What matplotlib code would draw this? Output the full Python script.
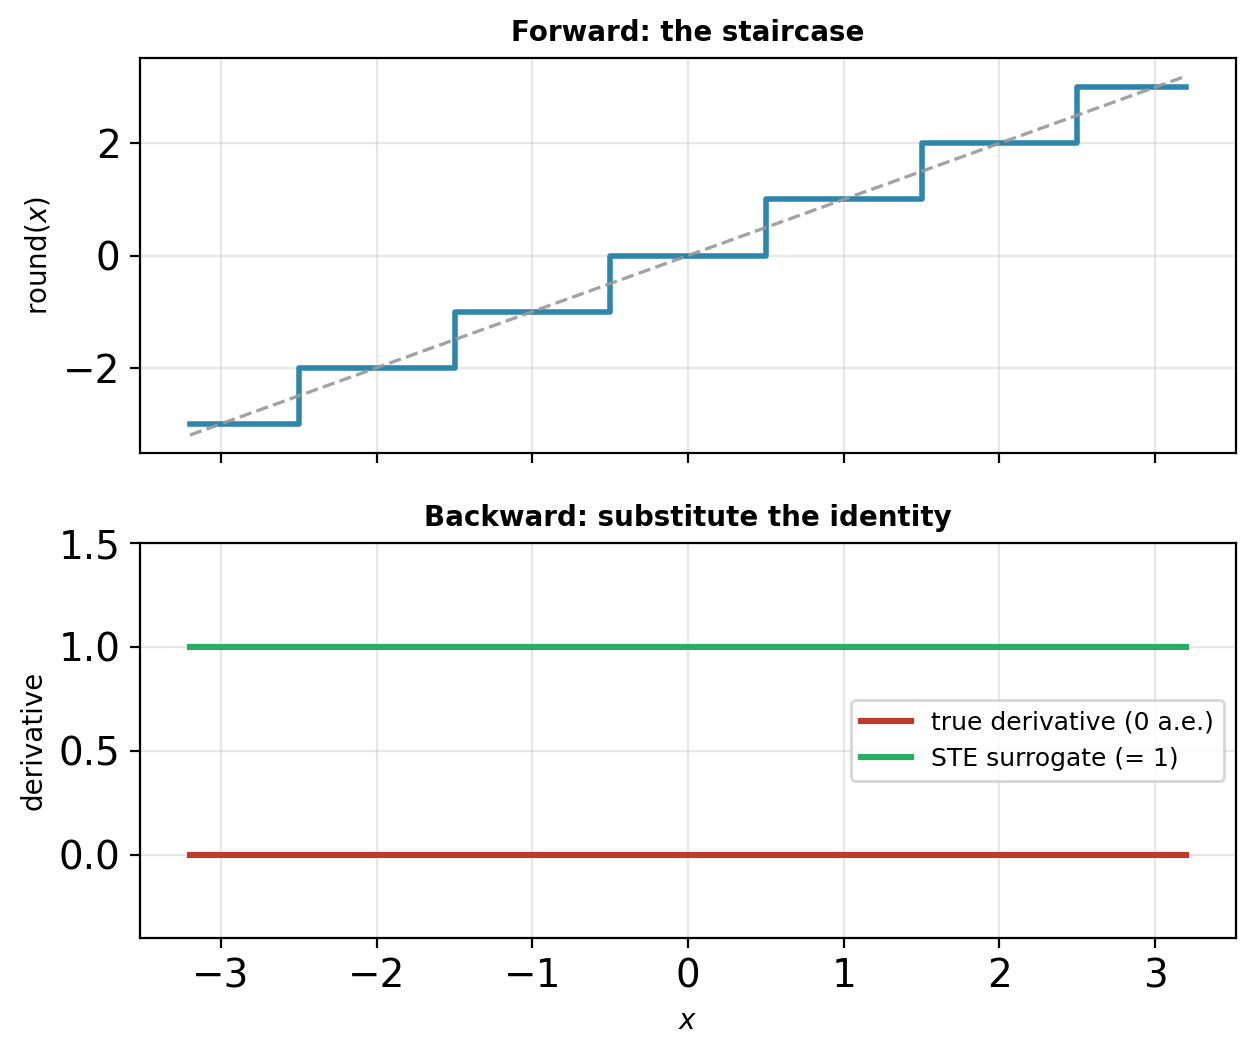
import matplotlib
matplotlib.use("Agg")
import matplotlib.pyplot as plt
import numpy as np

# Data
step_edges = [-3.2, -2.5, -1.5, -0.5, 0.5, 1.5, 2.5, 3.2]
step_levels = [-3, -2, -1, 0, 1, 2, 3]
identity_x = [-3.2, 3.2]
identity_y = [-3.2, 3.2]
deriv_x = [-3.2, 3.2]
true_deriv = [0, 0]
ste_deriv = [1, 1]

fig = plt.figure(figsize=(6.275, 5.275), dpi=200)
ax1 = fig.add_axes([0.1116, 0.5706, 0.8733, 0.3744])
ax2 = fig.add_axes([0.1116, 0.1109, 0.8733, 0.3744], sharex=ax1)

ax1.plot(step_edges, step_levels + [step_levels[-1]], drawstyle='steps-post',
         color='#2E86AB', lw=2.0)
ax1.plot(identity_x, identity_y, ls='--', color='#999999', lw=1.2, alpha=0.9)
ax1.set_xlim(-3.52, 3.52)
ax1.set_ylim(-3.52, 3.52)
ax1.set_yticks([-2, 0, 2])
ax1.set_ylabel('round($x$)', fontsize=10)
ax1.set_title('Forward: the staircase', fontsize=10, fontweight='bold')
ax1.grid(True, alpha=0.3)
ax1.tick_params(labelsize=14, labelbottom=False)

ax2.plot(deriv_x, true_deriv, color='#C0392B', lw=2.2, label='true derivative (0 a.e.)')
ax2.plot(deriv_x, ste_deriv, color='#27AE60', lw=2.2, label='STE surrogate (= 1)')
ax2.set_ylim(-0.4, 1.5)
ax2.set_yticks([0.0, 0.5, 1.0, 1.5])
ax2.set_ylabel('derivative', fontsize=10)
ax2.set_xlabel('$x$', fontsize=10)
ax2.set_title('Backward: substitute the identity', fontsize=10, fontweight='bold')
ax2.grid(True, alpha=0.3)
ax2.tick_params(labelsize=14)
ax2.legend(loc='center right', fontsize=9)

fig.savefig('out.png', dpi=200)
